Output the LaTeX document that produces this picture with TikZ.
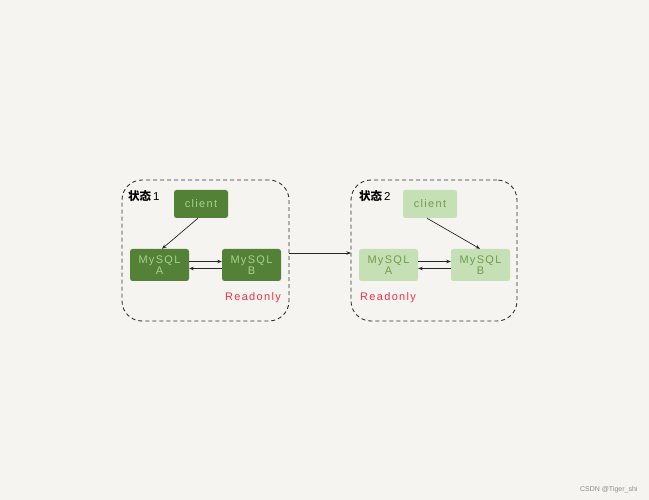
\documentclass[tikz,border=0pt]{standalone}
\usepackage{fontspec}
\setmainfont{Liberation Sans}
\newfontfamily\hand[LetterSpace=12]{Liberation Sans}
\newfontfamily\cjk{Noto Sans CJK SC}
\usetikzlibrary{arrows.meta}
\definecolor{bg}{HTML}{F5F4F0}
\definecolor{dkg}{HTML}{538135}
\definecolor{dkt}{HTML}{A9D18E}
\definecolor{ltg}{HTML}{C5E0B4}
\definecolor{ltt}{HTML}{6E9E4E}
\definecolor{ro}{HTML}{E8344E}
\tikzset{
  cont/.style={draw=black!80, dashed, dash pattern=on 4pt off 3pt, rounded corners=20pt, line width=0.9pt},
  dbox/.style={fill=dkg, text=dkt, rounded corners=2.5pt, inner sep=0pt, align=center, font=\hand\fontsize{11}{11.5}\selectfont},
  lbox/.style={fill=ltg, text=ltt, rounded corners=2.5pt, inner sep=0pt, align=center, font=\hand\fontsize{11}{11.5}\selectfont},
  conn/.style={-{Stealth[length=4.5pt,width=3.5pt]}, line width=0.7pt, black!85},
  rolab/.style={text=ro, font=\hand\fontsize{11}{12}\selectfont, inner sep=0pt},
  stlab/.style={font=\fontsize{11.5}{12}\selectfont, inner sep=0pt}
}
\begin{document}
\begin{tikzpicture}[x=1pt,y=-1pt]
\fill[bg] (0,0) rectangle (649,500);
\useasboundingbox (0,0) rectangle (649,500);
% containers
\node[cont, minimum width=167pt, minimum height=141pt] (c1) at (205.5,250.5) {};
\node[cont, minimum width=166pt, minimum height=141pt] (c2) at (434,250.5) {};
% left state
\node[stlab, anchor=west] (s1) at (128,196) {{\cjk\bfseries 状态}\,1};
\node[dbox, minimum width=54pt, minimum height=28pt] (cl1) at (201,204) {client};
\node[dbox, minimum width=59pt, minimum height=32pt] (a1) at (159.5,265) {MySQL\\A};
\node[dbox, minimum width=59pt, minimum height=32pt] (b1) at (251.5,265) {MySQL\\B};
\node[rolab, anchor=east] (r1) at (281,298) {Readonly};
% right state
\node[stlab, anchor=west] (s2) at (359,196) {{\cjk\bfseries 状态}\,2};
\node[lbox, minimum width=54pt, minimum height=28pt] (cl2) at (430,204) {client};
\node[lbox, minimum width=59pt, minimum height=32pt] (a2) at (388.5,265) {MySQL\\A};
\node[lbox, minimum width=59pt, minimum height=32pt] (b2) at (480.5,265) {MySQL\\B};
\node[rolab, anchor=west] (r2) at (360,298) {Readonly};
% connectors
\draw[conn] ([xshift=-3pt]cl1.south) -- ([xshift=2.5pt]a1.north);
\draw[conn] ([xshift=-3pt]cl2.south) -- ([xshift=-0.5pt]b2.north);
\draw[conn] ([yshift=3.5pt]a1.east) -- ([yshift=3.5pt]b1.west);
\draw[conn] ([yshift=-3.5pt]b1.west) -- ([yshift=-3.5pt]a1.east);
\draw[conn] ([yshift=3.5pt]a2.east) -- ([yshift=3.5pt]b2.west);
\draw[conn] ([yshift=-3.5pt]b2.west) -- ([yshift=-3.5pt]a2.east);
\coordinate (m1) at (289,253);
\coordinate (m2) at (351,253);
\draw[conn] (m1) -- (m2);
\node[text=black!45, font=\fontsize{7}{8}\selectfont, anchor=east] (wm) at (641,490) {CSDN @Tiger\_shi};
\end{tikzpicture}
\end{document}
